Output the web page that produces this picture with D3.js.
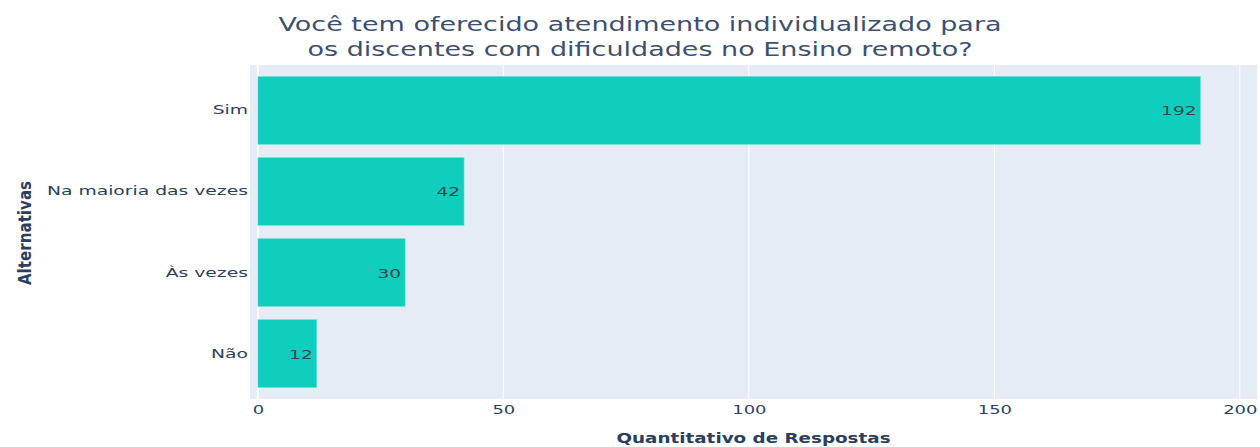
<!DOCTYPE html>
<html lang="pt">
<head>
<meta charset="UTF-8">
<title>Atendimento individualizado</title>
<script src="https://d3js.org/d3.v7.min.js"></script>
<style>
  body { margin: 0; background: #fff; }
  text { fill: #2a3f5f; font-family: "DejaVu Sans", verdana, arial, sans-serif; }
</style>
</head>
<body>
<div id="chart"></div>
<script>
const categorias = ["Sim", "Na maioria das vezes", "Às vezes", "Não"];
const respostas = [192, 42, 30, 12];
const ticksX = [0, 50, 100, 150, 200];
const titulo = ["Você tem oferecido atendimento individualizado para",
                "os discentes com dificuldades no Ensino remoto?"];

const width = 1260, height = 447;
const plot = { left: 250, right: 1257, top: 65, bottom: 399 };

const svg = d3.select("#chart").append("svg")
    .attr("width", width)
    .attr("height", height);

// alarga o texto na horizontal, como na imagem original
function esticar(sel, sx) {
    sel.each(function () {
        const t = d3.select(this);
        const x0 = +t.attr("x") || 0, y0 = +t.attr("y") || 0;
        t.attr("transform", `translate(${x0},${y0}) scale(${sx},1) translate(${-x0},${-y0})`);
    });
}

const x = d3.scaleLinear().domain([-1.6, 203.5]).range([plot.left, plot.right]);
const y = d3.scaleBand().domain(categorias).range([plot.top, plot.bottom])
    .paddingInner(0.16).paddingOuter(0.14);

// fundo da área do gráfico
svg.append("rect")
    .attr("x", plot.left).attr("y", plot.top)
    .attr("width", plot.right - plot.left).attr("height", plot.bottom - plot.top)
    .attr("fill", "#e5ecf6");

// grade vertical
svg.append("g").selectAll("line")
    .data(ticksX)
    .enter().append("line")
    .attr("x1", d => x(d)).attr("x2", d => x(d))
    .attr("y1", plot.top).attr("y2", plot.bottom)
    .attr("stroke", "#fff")
    .attr("stroke-width", d => d === 0 ? 2 : 1);

// barras
svg.append("g").selectAll("rect")
    .data(respostas)
    .enter().append("rect")
    .attr("x", x(0))
    .attr("y", (d, i) => y(categorias[i]))
    .attr("width", d => x(d) - x(0))
    .attr("height", y.bandwidth())
    .attr("fill", "#10cebd")
    .attr("stroke", "#7fe3d8")
    .attr("stroke-width", 0.6);

// rótulos dentro das barras
svg.append("g").selectAll("text")
    .data(respostas)
    .enter().append("text")
    .attr("x", d => x(d) - 4)
    .attr("y", (d, i) => y(categorias[i]) + y.bandwidth() / 2 + 5)
    .attr("text-anchor", "end")
    .style("font-size", "13px")
    .style("fill", "#3b4650")
    .text(d => d)
    .call(esticar, 1.43);

// eixo x
const xAxis = svg.append("g")
    .attr("transform", `translate(0,${plot.bottom})`)
    .call(d3.axisBottom(x).tickValues(ticksX).tickSize(0).tickPadding(6));
xAxis.select(".domain").remove();
xAxis.selectAll("text").attr("font-family", null).style("font-size", "13px")
    .call(esticar, 1.38);

// eixo y
const yAxis = svg.append("g")
    .attr("transform", `translate(${plot.left},0)`)
    .call(d3.axisLeft(y).tickSize(0).tickPadding(2));
yAxis.select(".domain").remove();
yAxis.selectAll("text").attr("font-family", null).style("font-size", "12.5px")
    .call(esticar, 1.5);

// títulos dos eixos
svg.append("text")
    .attr("x", (plot.left + plot.right) / 2)
    .attr("y", 443)
    .attr("text-anchor", "middle")
    .style("font-size", "14px")
    .style("font-weight", "bold")
    .text("Quantitativo de Respostas")
    .call(esticar, 1.31);

svg.append("g")
    .attr("transform", `translate(31,${(plot.top + plot.bottom) / 2 + 1}) rotate(-90)`)
    .append("text")
    .attr("text-anchor", "middle")
    .style("font-size", "18px")
    .style("font-weight", "bold")
    .text("Alternativas")
    .call(esticar, 0.84);

// título
svg.append("g").selectAll("text")
    .data(titulo)
    .enter().append("text")
    .attr("x", 640)
    .attr("y", (d, i) => 31 + i * 25)
    .attr("text-anchor", "middle")
    .style("font-size", "20px")
    .style("fill", "#3d5070")
    .text(d => d)
    .call(esticar, 1.35);
</script>
</body>
</html>
